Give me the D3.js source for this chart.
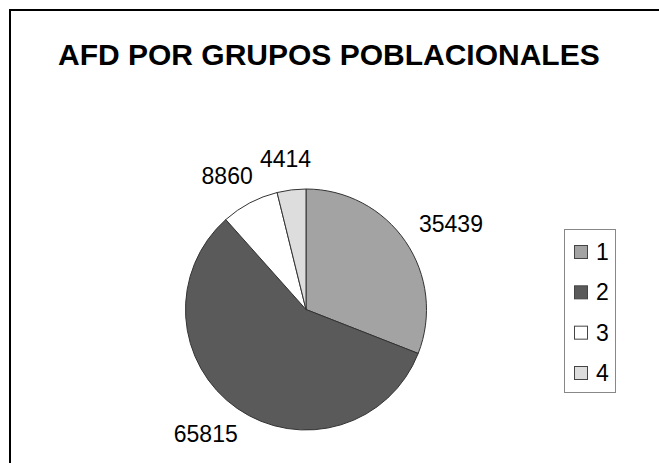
<!DOCTYPE html>
<html><head><meta charset="utf-8">
<script src="https://cdn.jsdelivr.net/npm/d3@7"></script>
<style>body{margin:0;background:#fff}svg{display:block}text{font-family:"Liberation Sans",Arial,sans-serif}</style>
</head><body>
<svg id="c" width="659" height="463"></svg>
<script>
const title = "AFD POR GRUPOS POBLACIONALES";
const categories = ["1", "2", "3", "4"];
const values = [35439, 65815, 8860, 4414];
const colors = ["#a3a3a3", "#5a5a5a", "#ffffff", "#dddddd"];

const svg = d3.select("#c");
svg.append("rect").attr("x", 10).attr("y", 10).attr("width", 700).attr("height", 500)
  .attr("fill", "#fff").attr("stroke", "#000").attr("stroke-width", 2);

svg.append("text").attr("x", 58).attr("y", 65).attr("font-size", 30).attr("font-weight", "bold")
  .attr("fill", "#000").text(title);

const cx = 306, cy = 309.5, r = 120.5;
const data = categories.map((c, i) => ({ c, v: values[i], col: colors[i] }));
const pie = d3.pie().value(d => d.v).sort(null);
const arcs = pie(data);
const arc = d3.arc().innerRadius(0).outerRadius(r);
const g = svg.append("g").attr("transform", `translate(${cx},${cy})`);
g.selectAll("path").data(arcs).join("path")
  .attr("d", arc).attr("fill", d => d.data.col)
  .attr("stroke", "#333").attr("stroke-width", 1);

const fs = 23, capH = fs * 0.716, R = r + 23;
g.selectAll("text.lbl").data(arcs).join("text").attr("class", "lbl")
  .attr("font-size", fs).attr("fill", "#000")
  .text(d => d.data.v)
  .each(function (d) {
    const a = (d.startAngle + d.endAngle) / 2;
    const s = Math.sin(a), c = Math.cos(a);
    const px = R * s, py = -R * c;
    const w = this.getComputedTextLength();
    const left = px - w * (1 - s) / 2;
    const top = py - capH * (1 + c) / 2;
    d3.select(this).attr("x", left).attr("y", top + capH);
  });

const lg = svg.append("g");
lg.append("rect").attr("x", 564.5).attr("y", 229.5).attr("width", 51).attr("height", 163)
  .attr("fill", "#fff").attr("stroke", "#888").attr("stroke-width", 1);
const rowY = d3.scalePoint().domain(categories).range([252, 373]);
categories.forEach((c, i) => {
  const y = rowY(c);
  lg.append("rect").attr("x", 574.5).attr("y", y - 6.5).attr("width", 13).attr("height", 13)
    .attr("fill", colors[i]).attr("stroke", "#444").attr("stroke-width", 1);
  lg.append("text").attr("x", 596).attr("y", y + 8).attr("font-size", 23).attr("fill", "#000").text(c);
});
</script>
</body></html>
